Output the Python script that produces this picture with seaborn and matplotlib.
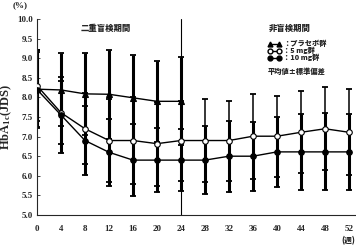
import numpy as np
import pandas as pd
import matplotlib
matplotlib.use("Agg")
import matplotlib.pyplot as plt
import seaborn as sns
from matplotlib.lines import Line2D

# ---- data ----
weeks_db = [0, 4, 8, 12, 16, 20, 24]
weeks_all = [0, 4, 8, 12, 16, 20, 24, 28, 32, 36, 40, 44, 48, 52]
x_ticks = [0, 4, 8, 12, 16, 20, 24, 28, 32, 36, 40, 44, 48, 52]

placebo_mean = [8.21, 8.19, 8.09, 8.08, 7.99, 7.90, 7.90]
placebo_sd = [1.00, 0.93, 1.05, 1.14, 1.10, 1.04, 1.12]

mg5_mean = [8.30, 7.61, 7.20, 6.90, 6.90, 6.82, 6.90, 6.90, 6.90, 7.01, 7.01, 7.11, 7.20, 7.11]
mg5_sd = [0.90, 0.80, 0.90, 1.05, 1.10, 1.07, 1.02, 1.05, 1.02, 1.08, 1.03, 1.05, 1.06, 1.10]

mg10_mean = [8.20, 7.55, 6.90, 6.60, 6.40, 6.40, 6.40, 6.40, 6.50, 6.50, 6.61, 6.61, 6.61, 6.61]
mg10_sd = [0.95, 0.98, 0.88, 0.85, 0.91, 0.82, 0.80, 0.86, 0.91, 0.88, 0.90, 0.96, 0.98, 0.97]

labels = ["：プラセボ群", "：5 mg群", "：10 mg群"]
note = "平均値±標準偏差"
period1 = "二重盲検期間"
period2 = "非盲検期間"
ylabel = "HbA$_{1c}$(JDS)"

sns.set_style("ticks")
plt.rcParams["font.family"] = ["Liberation Serif", "Noto Sans CJK JP"]
plt.rcParams["mathtext.fontset"] = "custom"
plt.rcParams["mathtext.rm"] = "Liberation Serif:bold"
plt.rcParams["mathtext.it"] = "Liberation Serif:bold"
jp = ["Noto Sans CJK JP", "DejaVu Sans"]

fig = plt.figure(figsize=(3.56, 2.45), dpi=100)
ax = fig.add_axes([37/356, 30/245, 318/356, 196/245])

series = [
    (weeks_db, placebo_mean, placebo_sd, "^", "black", 2.2),
    (weeks_all, mg5_mean, mg5_sd, "o", "white", 1.1),
    (weeks_all, mg10_mean, mg10_sd, "o", "black", 2.2),
]

for (w, m, s, mk, fc, elw) in series:
    ax.errorbar(w, m, yerr=s, fmt="none", ecolor="black", elinewidth=elw,
                capsize=2.3, capthick=1.3, zorder=2)

for (w, m, s, mk, fc, elw), lab in zip(series, labels):
    df = pd.DataFrame({"week": w, "mean": m})
    sns.lineplot(data=df, x="week", y="mean", ax=ax, color="black", lw=1.0,
                 marker=mk, markersize=4, markerfacecolor=fc,
                 markeredgecolor="black", markeredgewidth=0.8, zorder=3,
                 legend=False)

ax.axvline(24, color="black", lw=0.8, zorder=1)

ax.set_xlim(0, 53)
ax.set_ylim(5.0, 10.0)
ax.set_xticks(x_ticks)
ax.set_xticklabels([str(t) for t in x_ticks])
ax.set_yticks(np.arange(5.0, 10.01, 0.5))
ax.set_yticklabels([f"{v:.1f}" for v in np.arange(5.0, 10.01, 0.5)])
ax.tick_params(axis="x", length=0, pad=7, labelsize=6.5)
ax.tick_params(axis="y", direction="in", length=2, width=0.6, pad=3, labelsize=6.5)
for lab in ax.get_xticklabels() + ax.get_yticklabels():
    lab.set_fontweight("bold")
ax.set_xlabel("")
ax.set_ylabel(ylabel, fontsize=9, fontweight="bold", labelpad=2)
for sp in ["top", "right"]:
    ax.spines[sp].set_visible(False)
for sp in ["left", "bottom"]:
    ax.spines[sp].set_linewidth(0.8)

fig.text(13/356, 1 - 5/245, "(%)", fontsize=6.5, fontweight="bold", ha="left", va="center")
fig.text(355/356, 1 - 240/245, "(週)", fontsize=5.5, fontweight="heavy", ha="right", va="center", family=jp)
fig.text(106/356, 1 - 28/245, period1, fontsize=6, fontweight="heavy", ha="center", va="center", family=jp)
fig.text(290/356, 1 - 28/245, period2, fontsize=6, fontweight="heavy", ha="center", va="center", family=jp)

handles = [
    Line2D([0], [0], color="black", lw=1.0, marker="^", markersize=3.5, markerfacecolor="black", markeredgecolor="black"),
    Line2D([0], [0], color="black", lw=1.0, marker="o", markersize=3.5, markerfacecolor="white", markeredgecolor="black"),
    Line2D([0], [0], color="black", lw=1.0, marker="o", markersize=3.5, markerfacecolor="black", markeredgecolor="black"),
]
leg = fig.legend(handles, labels, loc="upper left", bbox_to_anchor=(268/356, 1 - 40/245),
                 frameon=False, numpoints=2, handlelength=1.8, handletextpad=0.3,
                 labelspacing=-0.05, borderpad=0, borderaxespad=0,
                 prop={"family": jp, "size": 5.2, "weight": "heavy"})
fig.text(268/356, 1 - 71/245, note, fontsize=5.2, fontweight="heavy", ha="left", va="center", family=jp)

fig.savefig("out.png", dpi=100)
